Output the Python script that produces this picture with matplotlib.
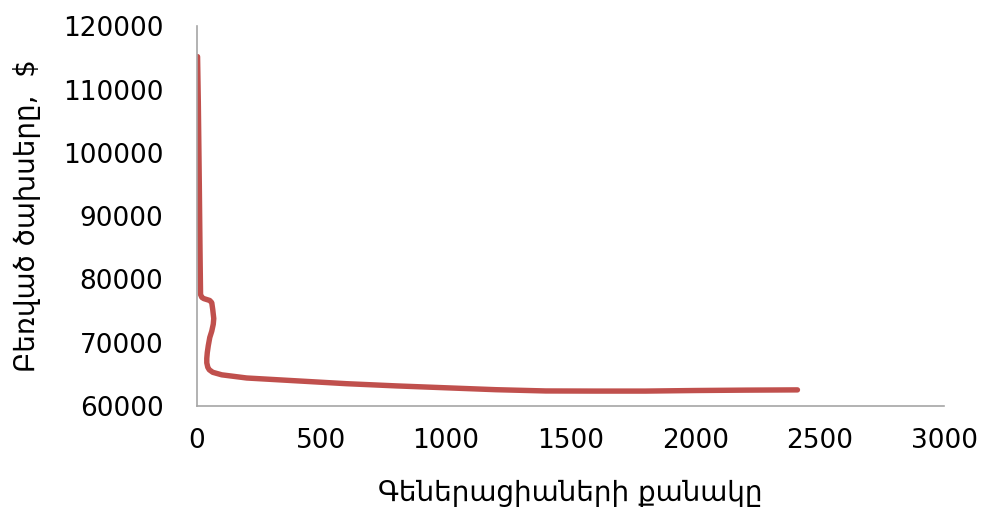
import matplotlib
matplotlib.use("Agg")
import matplotlib.pyplot as plt

# generation number vs. loaded cost (read from the GA run)
generations = [3, 6, 10, 13, 15, 20, 28, 40, 52, 60, 64, 68, 66, 60, 52, 46, 42, 40, 40, 44, 50,
               64, 100, 200, 400, 600, 800, 1000, 1200, 1400, 1600, 1800, 2000, 2200, 2410]
cost = [115200, 108000, 95000, 84000, 77600, 77150, 76950, 76800, 76650, 76300, 75200, 73800,
        72900, 71800, 70800, 69500, 68400, 67500, 66800, 66100, 65700,
        65300, 64900, 64400, 63950, 63500, 63150, 62850, 62550, 62350, 62330, 62330, 62420,
        62480, 62520]

xticks = [0, 500, 1000, 1500, 2000, 2500, 3000]
yticks = [60000, 70000, 80000, 90000, 100000, 110000, 120000]

fig = plt.figure(figsize=(9.89, 5.25), dpi=100)
ax = fig.add_axes([0.199, 0.227, 0.756, 0.723])

ax.plot(generations, cost, color="#C0504D", linewidth=3.9,
        solid_capstyle="round", solid_joinstyle="round")

ax.set_xlim(0, 3000)
ax.set_ylim(60000, 120000)
ax.set_xticks(xticks)
ax.set_yticks(yticks)

for side in ("top", "right"):
    ax.spines[side].set_visible(False)
for side in ("left", "bottom"):
    ax.spines[side].set_color("#A6A6A6")
    ax.spines[side].set_linewidth(1.2)

ax.tick_params(length=0, labelsize=19)
ax.tick_params(axis="y", pad=24)
ax.tick_params(axis="x", pad=16)

ax.set_xlabel("Գեներացիաների քանակը", fontsize=20, labelpad=18)
ax.set_ylabel("Բեռված ծախսերը,  $", fontsize=20, labelpad=16)

fig.savefig("out.png", dpi=100)
